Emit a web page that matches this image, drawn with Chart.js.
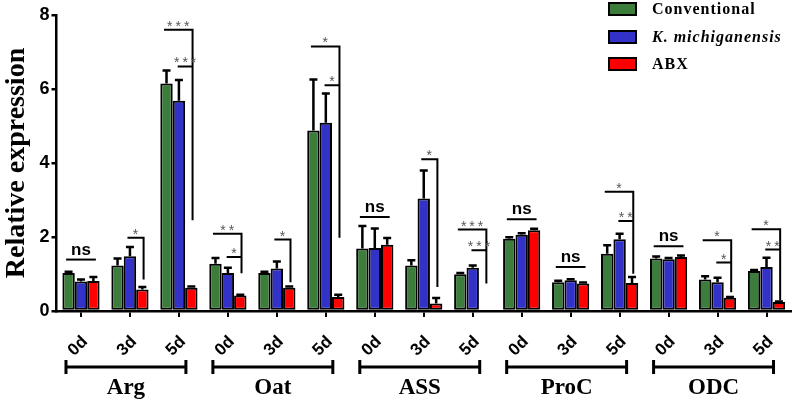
<!DOCTYPE html>
<html>
<head>
<meta charset="utf-8">
<script src="https://cdn.jsdelivr.net/npm/chart.js@4"></script>
<style>
  html, body { margin: 0; padding: 0; background: #fff; }
  #wrap { width: 800px; height: 402px; }
</style>
</head>
<body>
<div id="wrap"><canvas id="expressionChart"></canvas></div>
<script>

const genes = ["Arg", "Oat", "ASS", "ProC", "ODC"];
const days = ["0d", "3d", "5d"];
const labels = genes.flatMap(() => days);

const seriesNames = ["Conventional", "K. michiganensis", "ABX"];

const conventional    = [1.03, 1.23, 6.15, 1.28, 1.03, 4.88, 1.69, 1.23, 0.99, 1.95, 0.78, 1.55, 1.42, 0.85, 1.08];
const conventionalErr = [0.03, 0.19, 0.35, 0.15, 0.03, 1.38, 0.61, 0.14, 0.04, 0.04, 0.04, 0.23, 0.05, 0.09, 0.03];

const michiganensis    = [0.80, 1.48, 5.68, 1.03, 1.15, 5.09, 1.70, 3.04, 1.17, 2.06, 0.83, 1.94, 1.40, 0.78, 1.19];
const michiganensisErr = [0.05, 0.25, 0.56, 0.14, 0.19, 0.79, 0.53, 0.76, 0.06, 0.04, 0.03, 0.15, 0.03, 0.12, 0.25];

const abx    = [0.81, 0.58, 0.63, 0.42, 0.63, 0.38, 1.79, 0.20, null, 2.18, 0.74, 0.76, 1.46, 0.36, 0.24];
const abxErr = [0.11, 0.07, 0.03, 0.02, 0.03, 0.06, 0.18, 0.15, 0, 0.04, 0.03, 0.16, 0.04, 0.02, 0.02];

const yTicks = [0, 2, 4, 6, 8];

// significance marks: [category index, y of line]
const nsMarks = [[0, 1.39], [6, 2.54], [9, 2.48], [10, 1.19], [12, 1.75]];
// single bracket: [category, label, line y, bottom y]
const singleMarks = [[1, "*", 1.98, 0.85], [4, "*", 1.93, 0.78], [7, "*", 4.1, 0.65]];
// double bracket: [category, top label, top y, inner label, inner y, bottom y]
const doubleMarks = [
    [2, "***", 7.6, "***", 6.61, 2.45],
    [3, "**", 2.09, "*", 1.46, 1.02],
    [5, "*", 7.15, "*", 6.1, 1.98],
    [8, "***", 2.2, "***", 1.64, 0.74],
    [11, "*", 3.22, "**", 2.43, 1.01],
    [13, "*", 1.91, "*", 1.31, 0.51],
    [14, "*", 2.21, "**", 1.66, 0.29]
];

const colors = ["#3c7d3c", "#3232c8", "#ff0000"];
const errorSets = [conventionalErr, michiganensisErr, abxErr];

const errorBars = {
    id: "errorBars",
    afterDatasetsDraw(chart) {
        const ctx = chart.ctx;
        const y = chart.scales.y;
        ctx.save();
        ctx.strokeStyle = "#000";
        ctx.lineWidth = 2.5;
        chart.data.datasets.forEach((ds, i) => {
            chart.getDatasetMeta(i).data.forEach((bar, j) => {
                const v = ds.data[j];
                if (v == null) return;
                const top = y.getPixelForValue(v + errorSets[i][j]);
                ctx.beginPath();
                ctx.moveTo(bar.x, bar.y);
                ctx.lineTo(bar.x, top);
                ctx.moveTo(bar.x - 4, top);
                ctx.lineTo(bar.x + 4, top);
                ctx.stroke();
            });
        });
        ctx.restore();
    }
};

const significance = {
    id: "significance",
    afterDraw(chart) {
        const ctx = chart.ctx;
        const x = chart.scales.x;
        const y = chart.scales.y;
        const w = chart.getDatasetMeta(0).data[0].width;

        ctx.save();
        ctx.strokeStyle = "#000";
        ctx.lineWidth = 2;

        const star = (text, cx, ly) => {
            ctx.font = "14px Arial";
            ctx.letterSpacing = "3px";
            ctx.fillStyle = "#555";
            ctx.textAlign = "center";
            ctx.textBaseline = "alphabetic";
            ctx.fillText(text, cx + 1.5, ly + 1);
        };

        nsMarks.forEach(([i, v]) => {
            const c = x.getPixelForValue(i);
            const ly = y.getPixelForValue(v);
            ctx.beginPath();
            ctx.moveTo(c - 1.2 * w, ly);
            ctx.lineTo(c + 1.2 * w, ly);
            ctx.stroke();
            ctx.font = "bold 17px Arial";
            ctx.letterSpacing = "0px";
            ctx.fillStyle = "#000";
            ctx.textAlign = "center";
            ctx.textBaseline = "alphabetic";
            ctx.fillText("ns", c, ly - 5);
        });

        singleMarks.forEach(([i, text, top, bottom]) => {
            const c = x.getPixelForValue(i);
            const right = c + 1.1 * w;
            const ly = y.getPixelForValue(top);
            const start = c - 0.2 * w;
            ctx.beginPath();
            ctx.moveTo(start, ly);
            ctx.lineTo(right, ly);
            ctx.lineTo(right, y.getPixelForValue(bottom));
            ctx.stroke();
            star(text, (start + right) / 2, ly);
        });

        doubleMarks.forEach(([i, t1, top, t2, mid, bottom]) => {
            const c = x.getPixelForValue(i);
            const right = c + 1.1 * w;
            const ly1 = y.getPixelForValue(top);
            const ly2 = y.getPixelForValue(mid);
            const s1 = c - 1.2 * w;
            const s2 = c - 0.1 * w;
            ctx.beginPath();
            ctx.moveTo(s1, ly1);
            ctx.lineTo(right, ly1);
            ctx.lineTo(right, y.getPixelForValue(bottom));
            ctx.moveTo(s2, ly2);
            ctx.lineTo(right, ly2);
            ctx.stroke();
            star(t1, (s1 + right) / 2, ly1);
            star(t2, (s2 + right) / 2, ly2);
        });
        ctx.restore();
    }
};

const groupLabels = {
    id: "groupLabels",
    afterDraw(chart) {
        const ctx = chart.ctx;
        const x = chart.scales.x;
        ctx.save();
        ctx.strokeStyle = "#000";
        ctx.lineWidth = 3;
        ctx.fillStyle = "#000";
        ctx.font = "bold 23px 'Liberation Serif'";
        ctx.textAlign = "center";
        ctx.textBaseline = "alphabetic";
        genes.forEach((g, k) => {
            const a = x.getPixelForValue(k * 3) - 15;
            const b = x.getPixelForValue(k * 3 + 2) + 7;
            const by = 367;
            ctx.beginPath();
            ctx.moveTo(a, by); ctx.lineTo(b, by);
            ctx.moveTo(a, by - 7); ctx.lineTo(a, by + 7);
            ctx.moveTo(b, by - 7); ctx.lineTo(b, by + 7);
            ctx.stroke();
            ctx.fillText(g, (a + b) / 2, 394);
        });
        ctx.restore();
    }
};

const legendBoxes = {
    id: "legendBoxes",
    afterDraw(chart) {
        const ctx = chart.ctx;
        const rows = [9, 37, 64];
        ctx.save();
        seriesNames.forEach((name, i) => {
            ctx.fillStyle = colors[i];
            ctx.strokeStyle = "#000";
            ctx.lineWidth = 2;
            ctx.fillRect(609, rows[i] - 6, 27, 12);
            ctx.strokeRect(609, rows[i] - 6, 27, 12);
            ctx.fillStyle = "#000";
            ctx.font = (i === 1 ? "italic " : "") + "bold 16px 'Liberation Serif'";
            ctx.letterSpacing = "1px";
            ctx.textAlign = "left";
            ctx.textBaseline = "middle";
            ctx.fillText(name, 652, rows[i] + 1);
        });
        ctx.restore();
    }
};

const ctx = document.getElementById("expressionChart");

new Chart(ctx, {
    type: "bar",
    data: {
        labels: labels,
        datasets: [
            { label: seriesNames[0], data: conventional, backgroundColor: colors[0] },
            { label: seriesNames[1], data: michiganensis, backgroundColor: colors[1] },
            { label: seriesNames[2], data: abx, backgroundColor: colors[2] }
        ]
    },
    options: {
        responsive: true,
        maintainAspectRatio: false,
        animation: false,
        layout: { padding: { top: 15, right: 9, left: 0, bottom: 0 } },
        datasets: {
            bar: {
                borderColor: "#000",
                borderWidth: 2,
                borderSkipped: false,
                categoryPercentage: 0.76,
                barPercentage: 1
            }
        },
        plugins: {
            legend: { display: false },
            tooltip: { enabled: false }
        },
        scales: {
            x: {
                offset: true,
                grid: {
                    offset: false,
                    drawOnChartArea: false,
                    color: "#000",
                    lineWidth: 2,
                    tickLength: 6
                },
                border: { color: "#000", width: 2.5 },
                ticks: {
                    color: "#000",
                    font: { family: "Arial", weight: "bold", size: 17 },
                    minRotation: 45,
                    maxRotation: 45,
                    labelOffset: 4,
                    padding: 15
                },
                afterFit: scale => { scale.height = 91; }
            },
            y: {
                min: 0,
                max: 8,
                afterBuildTicks: scale => { scale.ticks = yTicks.map(v => ({ value: v })); },
                grid: {
                    drawOnChartArea: false,
                    color: "#000",
                    lineWidth: 2.5,
                    tickLength: 5
                },
                border: { color: "#000", width: 2.5 },
                ticks: {
                    color: "#000",
                    font: { family: "Arial", weight: "bold", size: 18 },
                    padding: 2
                },
                title: {
                    display: true,
                    text: "Relative expression",
                    color: "#000",
                    font: { family: "'Liberation Serif'", weight: "bold", size: 28 },
                    padding: { top: 0, bottom: 0 }
                },
                afterFit: scale => { scale.width = 56.5; }
            }
        }
    },
    plugins: [errorBars, significance, groupLabels, legendBoxes]
});

</script>
</body>
</html>
